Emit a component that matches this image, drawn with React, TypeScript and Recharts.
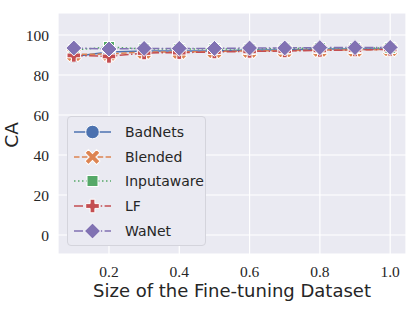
import React from 'react';
import { LineChart, Line, XAxis, YAxis, CartesianGrid } from 'recharts';

const sizes = [0.1, 0.2, 0.3, 0.4, 0.5, 0.6, 0.7, 0.8, 0.9, 1.0];
const badNets = [89.3, 91.5, 92.0, 92.0, 92.0, 92.5, 92.5, 93.0, 93.0, 93.0];
const blended = [90.3, 90.5, 91.5, 91.5, 91.8, 92.0, 92.2, 92.5, 92.5, 92.8];
const inputaware = [92.5, 94.0, 93.0, 93.0, 93.0, 93.0, 93.2, 93.5, 93.5, 93.5];
const lf = [89.8, 89.3, 91.0, 91.2, 91.5, 91.8, 92.0, 92.3, 92.5, 92.8];
const wanet = [93.5, 93.0, 93.3, 93.3, 93.3, 93.5, 93.5, 93.7, 93.7, 93.8];

const xTicks = [0.2, 0.4, 0.6, 0.8, 1.0];
const yTicks = [0, 20, 40, 60, 80, 100];

const data = sizes.map((s, i) => ({
  size: s,
  BadNets: badNets[i],
  Blended: blended[i],
  Inputaware: inputaware[i],
  LF: lf[i],
  WaNet: wanet[i],
}));

type Shape = 'circle' | 'x' | 'square' | 'plus' | 'diamond';

const series: { key: string; color: string; dash?: string; shape: Shape }[] = [
  { key: 'BadNets', color: '#4C72B0', shape: 'circle' },
  { key: 'Blended', color: '#DD8452', dash: '5.5 2.4', shape: 'x' },
  { key: 'Inputaware', color: '#55A868', dash: '1.5 2.5', shape: 'square' },
  { key: 'LF', color: '#C44E52', dash: '9 2.4 1.5 2.4', shape: 'plus' },
  { key: 'WaNet', color: '#8172B3', dash: '9 2.4 1.5 2.4', shape: 'diamond' },
];

function plusPath(cx: number, cy: number, r: number, a: number) {
  return `M${cx - a},${cy - r}L${cx + a},${cy - r}L${cx + a},${cy - a}L${cx + r},${cy - a}L${cx + r},${cy + a}L${cx + a},${cy + a}L${cx + a},${cy + r}L${cx - a},${cy + r}L${cx - a},${cy + a}L${cx - r},${cy + a}L${cx - r},${cy - a}L${cx - a},${cy - a}Z`;
}

function Marker({ shape, color, cx, cy }: { shape: Shape; color: string; cx: number; cy: number }) {
  const common = { fill: color, stroke: '#ffffff', strokeWidth: 1 };
  switch (shape) {
    case 'circle':
      return <circle cx={cx} cy={cy} r={6.8} {...common} />;
    case 'square':
      return <rect x={cx - 5.5} y={cy - 5.5} width={11} height={11} {...common} />;
    case 'plus':
      return <path d={plusPath(cx, cy, 6.8, 2.4)} {...common} />;
    case 'x':
      return <path d={plusPath(cx, cy, 8.2, 2.4)} transform={`rotate(45 ${cx} ${cy})`} {...common} />;
    case 'diamond':
    default:
      return <path d={`M${cx},${cy - 8}L${cx + 8},${cy}L${cx},${cy + 8}L${cx - 8},${cy}Z`} {...common} />;
  }
}

function makeDot(shape: Shape, color: string) {
  return (props: any) => {
    const { cx, cy, index } = props;
    if (cx == null || cy == null) return <g key={`d-${index}`} />;
    return (
      <g key={`${shape}-${index}`}>
        <Marker shape={shape} color={color} cx={cx} cy={cy} />
      </g>
    );
  };
}

function LegendBox() {
  return (
    <div
      style={{
        position: 'absolute',
        left: 67,
        top: 116,
        width: 139,
        height: 130,
        border: '1px solid #d4d4dc',
        borderRadius: 4,
        background: '#EAEAF2',
        boxSizing: 'border-box',
        paddingTop: 3,
      }}
    >
      {series.map((s) => (
        <div key={s.key} style={{ display: 'flex', alignItems: 'center', height: 24.6 }}>
          <svg width={52} height={20} style={{ display: 'block', flex: 'none' }}>
            <line x1={6} x2={43} y1={10} y2={10} stroke={s.color} strokeWidth={1.5} strokeDasharray={s.dash} />
            <Marker shape={s.shape} color={s.color} cx={24.5} cy={10} />
          </svg>
          <span
            style={{
              fontFamily: '"DejaVu Sans", sans-serif',
              fontSize: 14,
              color: '#262626',
              marginLeft: 5,
              lineHeight: '20px',
            }}
          >
            {s.key}
          </span>
        </div>
      ))}
    </div>
  );
}

const tickStyle = { fontFamily: '"Liberation Serif", serif', fontSize: 15.5, fill: '#262626' };

export default function App() {
  return (
    <div style={{ position: 'absolute', left: 0, top: 0, width: 415, height: 311, background: '#ffffff' }}>
      <LineChart width={415} height={311} data={data} margin={{ top: 13, right: 9, bottom: 12, left: 18 }}>
        <CartesianGrid fill="#EAEAF2" stroke="#ffffff" strokeWidth={1.2} horizontal vertical />
        <XAxis
          dataKey="size"
          type="number"
          domain={[0.055, 1.045]}
          ticks={xTicks}
          interval={0}
          allowDataOverflow
          tickFormatter={(v: number) => v.toFixed(1)}
          axisLine={false}
          tickLine={false}
          tickSize={0}
          tickMargin={12}
          height={45}
          tick={tickStyle}
          label={{
            value: 'Size of the Fine-tuning Dataset',
            position: 'insideBottom',
            offset: 2,
            style: { fontFamily: '"DejaVu Sans", sans-serif', fontSize: 18, fill: '#262626' },
          }}
        />
        <YAxis
          type="number"
          domain={[-9.5, 111]}
          ticks={yTicks}
          interval={0}
          allowDataOverflow
          axisLine={false}
          tickLine={false}
          tickSize={0}
          tickMargin={9}
          width={40}
          tick={tickStyle}
          label={{
            content: () => (
              <text
                x={11}
                y={135}
                transform="rotate(-90 11 135)"
                textAnchor="middle"
                dominantBaseline="central"
                style={{ fontFamily: '"DejaVu Sans", sans-serif', fontSize: 18.5, fill: '#262626' }}
              >
                CA
              </text>
            ),
          }}
        />
        {series.map((s) => (
          <Line
            key={s.key}
            dataKey={s.key}
            stroke={s.color}
            strokeWidth={1.5}
            strokeDasharray={s.dash}
            dot={makeDot(s.shape, s.color)}
            activeDot={false}
            isAnimationActive={false}
          />
        ))}
      </LineChart>
      <LegendBox />
    </div>
  );
}
